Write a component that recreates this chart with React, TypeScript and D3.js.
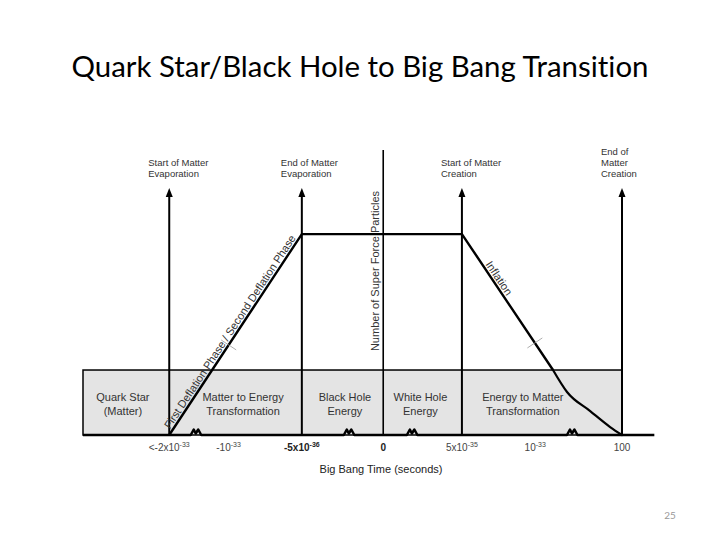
import React from "react";
import * as d3 from "d3";

// ---- data (chart units: x = schematic time position 0..100, y = particle count 0..100)
const title = "Quark Star/Black Hole to Big Bang Transition";
const xAxisLabel = "Big Bang Time (seconds)";
const yAxisLabel = "Number of Super Force Particles";

const tickPos = [16, 27, 40.6, 55.7, 70.3, 83.9, 100];
const tickBase = ["<-2x10", "-10", "-5x10", "0", "5x10", "10", "100"];
const tickExp = ["-33", "-33", "-36", "", "-35", "-33", ""];
const tickBold = [false, false, true, true, false, false, false];

const breakPos = [21.1, 49.5, 61.2, 90.9];

const regionBounds = [0, 100];
const regionTop = 22.8;
const regionLabelPos = [7.4, 29.7, 48.6, 62.6, 81.6];
const regionLabels = [
  ["Quark Star", "(Matter)"],
  ["Matter to Energy", "Transformation"],
  ["Black Hole", "Energy"],
  ["White Hole", "Energy"],
  ["Energy to Matter", "Transformation"],
];

const arrowX = [16, 40.6, 70.3, 100];
const arrowTop = 86.7;
const arrowLabels = [
  ["Start of Matter", "Evaporation"],
  ["End of Matter", "Evaporation"],
  ["Start of Matter", "Creation"],
  ["End of", "Matter", "Creation"],
];

const axisZeroX = 55.7;
const axisTopY = 100;
const axisEndX = 106;

// super force particle curve
const forceX = [16, 40.6, 70.3, 87.2, 89.8, 94.1, 97.8, 100];
const forceY = [0, 70.5, 70.5, 22.8, 15.1, 8.4, 2.8, 0];

const riseLabel = "First Deflation Phase / Second Deflation Phase";
const fallLabel = "Inflation";
const crossMarks = [
  { seg: 0, y: 31.6 },
  { seg: 2, y: 32.3 },
];

const W = 720;
const H = 540;
const FONT = "'Liberation Sans', Arial, sans-serif";

export default function App() {
  const x = d3.scaleLinear().domain([0, 100]).range([83, 622]);
  const y = d3.scaleLinear().domain([0, 100]).range([435, 150]);

  const pts: [number, number][] = forceX.map((v, i) => [x(v), y(forceY[i])]);
  const straight = d3.line().curve(d3.curveLinear)(pts.slice(0, 4)) as string;
  const tail = d3.line().curve(d3.curveMonotoneX)(pts.slice(3)) as string;

  const along = (p0: [number, number], p1: [number, number], s: number, off: number) => {
    const dx = p1[0] - p0[0];
    const dy = p1[1] - p0[1];
    const L = Math.hypot(dx, dy);
    const ux = dx / L;
    const uy = dy / L;
    return {
      x: p0[0] + ux * s + uy * off,
      y: p0[1] + uy * s - ux * off,
      a: (Math.atan2(dy, dx) * 180) / Math.PI,
    };
  };

  const rise = along(pts[0], pts[1], 5, 2.5);
  const fall = along(pts[2], pts[3], 38, 2.5);

  // baseline with break zigzags
  const baseY = y(0);
  const basePts: [number, number][] = [[x(0), baseY]];
  breakPos.forEach((b) => {
    const bx = x(b);
    basePts.push([bx - 6, baseY], [bx - 3, baseY - 5.5], [bx - 1, baseY - 1.5], [bx + 1.5, baseY - 5.5], [bx + 4.5, baseY]);
  });
  basePts.push([x(axisEndX), baseY]);
  const basePath = d3.line()(basePts) as string;

  return (
    <svg width={W} height={H} style={{ position: "absolute", left: 0, top: 0, display: "block" }}>
      <rect x={0} y={0} width={W} height={H} fill="#ffffff" />
      <text
        x={360}
        y={77}
        textAnchor="middle"
        fontFamily="Lato, 'Open Sans', sans-serif"
        fontSize={29.4}
        fill="#000"
        style={{ fontVariantLigatures: "none" }}
      >
        {title}
      </text>

      {/* grey region */}
      <rect
        x={x(regionBounds[0])}
        y={y(regionTop)}
        width={x(regionBounds[1]) - x(regionBounds[0])}
        height={y(0) - y(regionTop)}
        fill="#e4e4e4"
        stroke="#000"
        strokeWidth={1.5}
      />
      {regionLabels.map((lines, i) => (
        <text key={"r" + i} x={x(regionLabelPos[i])} y={401} textAnchor="middle" fontFamily={FONT} fontSize={11} fill="#333">
          {lines.map((t, j) => (
            <tspan key={j} x={x(regionLabelPos[i])} dy={j === 0 ? 0 : 14}>
              {t}
            </tspan>
          ))}
        </text>
      ))}

      {/* y axis */}
      <line x1={x(axisZeroX)} x2={x(axisZeroX)} y1={y(0)} y2={y(axisTopY)} stroke="#000" strokeWidth={1.6} />
      <text
        transform={`translate(${x(axisZeroX) - 4},${271}) rotate(-90)`}
        textAnchor="middle"
        fontFamily={FONT}
        fontSize={11}
        fill="#333"
      >
        {yAxisLabel}
      </text>

      {/* arrows */}
      {arrowX.map((ax, i) => {
        const px = x(ax);
        const tip = y(arrowTop);
        const lines = arrowLabels[i];
        return (
          <g key={"a" + i}>
            <line x1={px} x2={px} y1={y(0)} y2={tip + 6} stroke="#000" strokeWidth={2} />
            <path d={`M${px},${tip} L${px - 3.5},${tip + 9} L${px + 3.5},${tip + 9} Z`} fill="#000" />
            {lines.map((t, j) => (
              <text
                key={j}
                x={px - 21}
                y={177 - (lines.length - 1 - j) * 11}
                fontFamily={FONT}
                fontSize={9.5}
                fill="#333"
              >
                {t}
              </text>
            ))}
          </g>
        );
      })}

      {/* super force curve */}
      <path d={straight} fill="none" stroke="#000" strokeWidth={2.4} strokeLinejoin="miter" />
      <path d={tail} fill="none" stroke="#000" strokeWidth={2.2} strokeLinecap="round" />

      {crossMarks.map((c, i) => {
        const p0 = pts[c.seg];
        const p1 = pts[c.seg + 1];
        const py = y(c.y);
        const t = (py - p0[1]) / (p1[1] - p0[1]);
        const px = p0[0] + t * (p1[0] - p0[0]);
        const L = Math.hypot(p1[0] - p0[0], p1[1] - p0[1]);
        const nx = -(p1[1] - p0[1]) / L;
        const ny = (p1[0] - p0[0]) / L;
        return (
          <line key={"c" + i} x1={px - nx * 9} y1={py - ny * 9} x2={px + nx * 9} y2={py + ny * 9} stroke="#999" strokeWidth={0.8} />
        );
      })}

      <text transform={`translate(${rise.x},${rise.y}) rotate(${rise.a})`} fontFamily={FONT} fontSize={11} fill="#333">
        {riseLabel}
      </text>
      <text transform={`translate(${fall.x},${fall.y}) rotate(${fall.a})`} fontFamily={FONT} fontSize={11} fill="#333">
        {fallLabel}
      </text>

      {/* baseline */}
      <path d={basePath} fill="none" stroke="#000" strokeWidth={2.5} strokeLinejoin="round" />

      {tickPos.map((tp, i) => (
        <text
          key={"t" + i}
          x={x(tp)}
          y={451}
          textAnchor="middle"
          fontFamily={FONT}
          fontSize={10}
          fontWeight={tickBold[i] ? "bold" : "normal"}
          fill={tickBold[i] ? "#222" : "#444"}
        >
          <tspan>{tickBase[i]}</tspan>
          {tickExp[i] ? (
            <tspan dy={-4.5} fontSize={7}>
              {tickExp[i]}
            </tspan>
          ) : null}
        </text>
      ))}

      <text x={381} y={473} textAnchor="middle" fontFamily={FONT} fontSize={11} fill="#222">
        {xAxisLabel}
      </text>

      <text x={670} y={519} textAnchor="middle" fontFamily="Lato, sans-serif" fontSize={10} fill="#999">
        25
      </text>
    </svg>
  );
}
